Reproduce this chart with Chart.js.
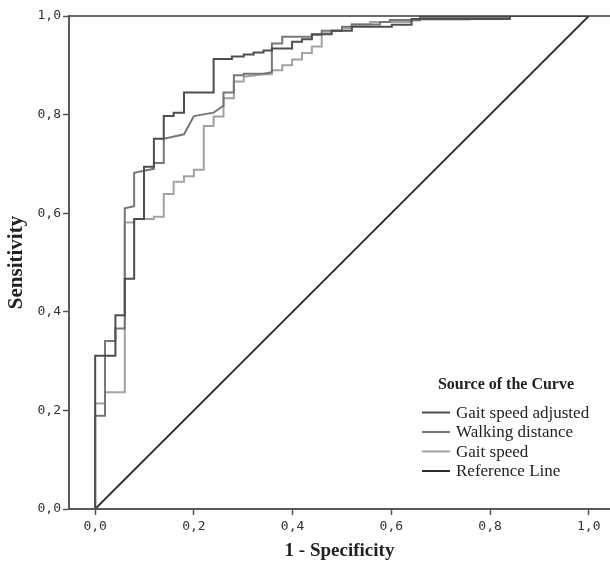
<!DOCTYPE html>
<html><head><meta charset="utf-8">
<script src="https://cdn.jsdelivr.net/npm/chart.js@4/dist/chart.umd.min.js"></script>
<style>html,body{margin:0;padding:0;background:#fff;}#wrap{width:610px;height:562px;position:relative;}</style>
</head><body><div id="wrap"><canvas id="c" width="610" height="562"></canvas></div>
<script>
const seriesNames = ["Gait speed adjusted", "Walking distance", "Gait speed", "Reference Line"];
const legendTitle = "Source of the Curve";
const xTicks = [0, 0.2, 0.4, 0.6, 0.8, 1.0];
const yTicks = [0, 0.2, 0.4, 0.6, 0.8, 1.0];

// [1 - specificity, sensitivity]
const gaitSpeedAdjusted = [[0,0],[0,0.311],[0.041,0.311],[0.041,0.393],[0.06,0.393],[0.06,0.467],[0.079,0.467],[0.079,0.588],[0.099,0.588],[0.099,0.694],[0.119,0.694],[0.119,0.751],[0.139,0.751],[0.139,0.797],[0.159,0.797],[0.159,0.804],[0.18,0.804],[0.18,0.845],[0.24,0.845],[0.24,0.913],[0.277,0.913],[0.277,0.918],[0.301,0.918],[0.301,0.922],[0.321,0.922],[0.321,0.926],[0.341,0.926],[0.341,0.93],[0.358,0.93],[0.358,0.934],[0.399,0.934],[0.399,0.948],[0.419,0.948],[0.419,0.953],[0.439,0.953],[0.439,0.963],[0.479,0.963],[0.479,0.97],[0.52,0.97],[0.52,0.978],[0.601,0.978],[0.601,0.982],[0.641,0.982],[0.641,0.994],[0.84,0.994],[0.84,1],[1,1]];
const walkingDistance = [[0,0],[0,0.189],[0.02,0.189],[0.02,0.341],[0.041,0.341],[0.041,0.366],[0.06,0.366],[0.06,0.61],[0.079,0.614],[0.079,0.682],[0.099,0.686],[0.119,0.69],[0.119,0.702],[0.139,0.702],[0.139,0.751],[0.18,0.76],[0.2,0.797],[0.24,0.804],[0.26,0.818],[0.26,0.845],[0.281,0.845],[0.281,0.88],[0.301,0.88],[0.301,0.883],[0.341,0.883],[0.358,0.886],[0.358,0.944],[0.379,0.944],[0.379,0.958],[0.439,0.958],[0.439,0.962],[0.459,0.962],[0.459,0.97],[0.5,0.97],[0.5,0.978],[0.52,0.978],[0.52,0.983],[0.577,0.983],[0.577,0.988],[0.597,0.988],[0.597,0.992],[0.658,0.992],[0.658,0.998],[0.84,0.998],[0.84,1],[1,1]];
const gaitSpeed = [[0,0],[0,0.214],[0.02,0.214],[0.02,0.237],[0.06,0.237],[0.06,0.581],[0.079,0.581],[0.079,0.588],[0.119,0.588],[0.119,0.593],[0.139,0.593],[0.139,0.639],[0.159,0.639],[0.159,0.664],[0.18,0.664],[0.18,0.675],[0.2,0.675],[0.2,0.688],[0.22,0.688],[0.22,0.777],[0.24,0.777],[0.24,0.796],[0.26,0.796],[0.26,0.833],[0.281,0.833],[0.281,0.867],[0.301,0.867],[0.301,0.877],[0.341,0.882],[0.358,0.882],[0.358,0.89],[0.379,0.89],[0.379,0.9],[0.399,0.9],[0.399,0.912],[0.419,0.912],[0.419,0.925],[0.439,0.925],[0.439,0.938],[0.459,0.938],[0.459,0.965],[0.479,0.965],[0.479,0.97],[0.5,0.97],[0.5,0.975],[0.52,0.975],[0.52,0.983],[0.557,0.983],[0.557,0.988],[0.638,0.988],[0.638,0.991],[0.658,0.991],[0.658,0.993],[0.759,0.993],[0.759,0.997],[0.82,0.997],[0.82,1],[1,1]];
const referenceLine = [[0,0],[1,1]];

const seriesColors = ["#4e4e4e", "#777777", "#a2a2a2", "#2b2b2b"];
const toPts = arr => arr.map(p => ({x: p[0], y: p[1]}));
const allSeries = [gaitSpeedAdjusted, walkingDistance, gaitSpeed, referenceLine];

const fmt = v => v.toFixed(1).replace('.', ',');

const framePlugin = {
  id: 'frameAndLegend',
  afterDraw(chart) {
    const ctx = chart.ctx, a = chart.chartArea;
    ctx.save();
    // top frame line
    ctx.strokeStyle = '#3a3a3a';
    ctx.lineWidth = 1.6;
    ctx.beginPath();
    ctx.moveTo(a.left, a.top);
    ctx.lineTo(a.right, a.top);
    ctx.stroke();
    // legend
    const lx = 422, ly = 385;
    ctx.fillStyle = '#222';
    ctx.font = 'bold 16px "Liberation Serif", "Times New Roman", serif';
    ctx.textAlign = 'center';
    ctx.textBaseline = 'middle';
    ctx.fillText(legendTitle, 506, ly);
    ctx.font = '17px "Liberation Serif", "Times New Roman", serif';
    ctx.textAlign = 'left';
    chart.data.datasets.forEach((ds, i) => {
      const y = 412.5 + i * 19.5;
      ctx.strokeStyle = ds.borderColor;
      ctx.lineWidth = 2;
      ctx.beginPath();
      ctx.moveTo(lx, y);
      ctx.lineTo(lx + 28, y);
      ctx.stroke();
      ctx.fillStyle = '#222';
      ctx.fillText(ds.label, lx + 34, y + 1);
    });
    ctx.restore();
  }
};

new Chart(document.getElementById('c'), {
  type: 'scatter',
  data: {
    datasets: allSeries.map((s, i) => ({
      label: seriesNames[i],
      data: toPts(s),
      showLine: true,
      borderColor: seriesColors[i],
      backgroundColor: seriesColors[i],
      borderWidth: i === 3 ? 1.8 : 2,
      pointRadius: 0,
      tension: 0,
      fill: false
    }))
  },
  options: {
    responsive: false,
    animation: false,
    devicePixelRatio: 1,
    layout: {padding: {top: 16, left: 0, right: 0, bottom: 0}},
    plugins: {legend: {display: false}, tooltip: {enabled: false}},
    scales: {
      x: {
        type: 'linear', min: -0.053, max: 1.043,
        afterBuildTicks: s => { s.ticks = xTicks.map(v => ({value: v})); },
        afterFit: s => { s.height = 53; },
        grid: {display: true, drawOnChartArea: false, drawTicks: true, tickLength: 6, tickColor: '#555', tickWidth: 1.5},
        border: {display: true, color: '#5a5a5a', width: 2},
        ticks: {callback: v => fmt(v), color: '#333', font: {family: '"DejaVu Sans Mono", monospace', size: 13}, padding: 4, maxRotation: 0, autoSkip: false},
        title: {display: true, text: '1 - Specificity', color: '#222', font: {family: '"Liberation Serif", "Times New Roman", serif', size: 19, weight: 'bold'}, padding: {top: 3, bottom: 0}}
      },
      y: {
        type: 'linear', min: 0, max: 1,
        afterBuildTicks: s => { s.ticks = yTicks.map(v => ({value: v})); },
        afterFit: s => { s.width = 69; },
        grid: {display: true, drawOnChartArea: false, drawTicks: true, tickLength: 6, tickColor: '#555', tickWidth: 1.5},
        border: {display: true, color: '#5a5a5a', width: 2},
        ticks: {callback: v => fmt(v), color: '#333', font: {family: '"DejaVu Sans Mono", monospace', size: 13}, padding: 2, autoSkip: false},
        title: {display: true, text: 'Sensitivity', color: '#222', font: {family: '"Liberation Serif", "Times New Roman", serif', size: 21, weight: 'bold'}, padding: {top: 4, bottom: 0}}
      }
    }
  },
  plugins: [framePlugin]
});
</script></body></html>
